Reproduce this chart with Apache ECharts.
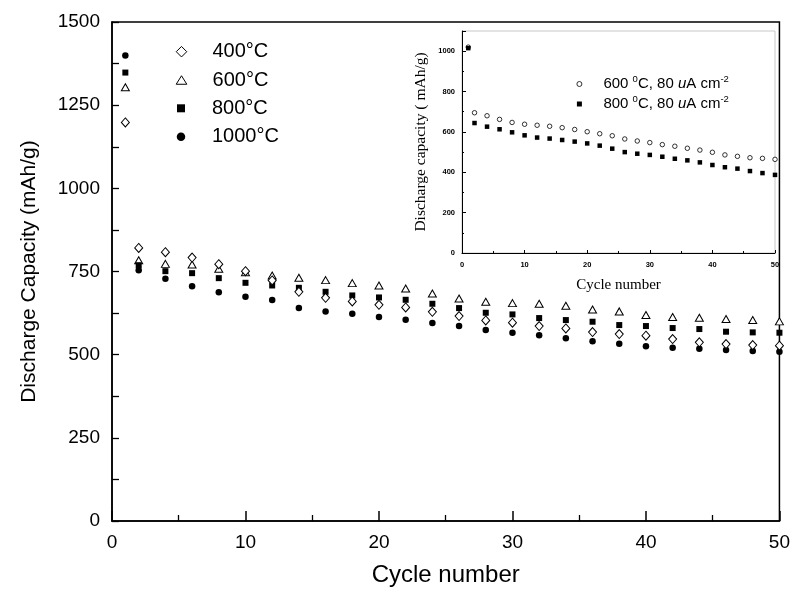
<!DOCTYPE html>
<html><head><meta charset="utf-8">
<script src="https://cdn.jsdelivr.net/npm/echarts@6/dist/echarts.min.js"></script>
<style>html,body{margin:0;padding:0;background:#fff}#c{width:793px;height:592px}</style>
</head><body><div id="c"></div>
<script>
// ---- data ----
const cycles = [1,2,4,6,8,10,12,14,16,18,20,22,24,26,28,30,32,34,36,38,40,42,44,46,48,50];
const cap400 = [1198,821,808,792,772,751,723,689,671,660,650,642,629,616,603,596,586,579,568,562,557,547,537,532,529,527];
const cap600 = [1304,784,773,771,758,748,738,731,724,715,708,699,684,669,659,655,653,647,636,630,619,613,611,607,604,600];
const cap800 = [1348,769,751,745,730,716,708,701,689,678,672,665,653,640,626,621,610,604,599,589,586,580,577,569,567,566];
const cap1000 = [1399,754,728,706,688,674,664,640,630,623,613,605,595,586,574,566,558,549,540,533,525,521,518,514,511,509];
const mainNames = ['400°C','600°C','800°C','1000°C'];

const insetCycles = [1,2,4,6,8,10,12,14,16,18,20,22,24,26,28,30,32,34,36,38,40,42,44,46,48,50];
const inset600 = [1020,695,680,662,647,638,633,628,621,612,601,591,581,565,555,547,537,529,519,510,499,486,479,472,469,464];
const inset800 = [1015,644,626,613,598,583,572,567,560,552,543,532,517,500,492,486,477,467,459,449,436,425,418,406,396,387];
const insetNames = ['600 °C, 80 uA cm-2','800 °C, 80 uA cm-2'];
const insetRich = {
  '600 °C, 80 uA cm-2': '{n|600 }{s|0}{n|C, 80 }{i|u}{n|A cm}{s|-2}',
  '800 °C, 80 uA cm-2': '{n|800 }{s|0}{n|C, 80 }{i|u}{n|A cm}{s|-2}'
};

const mainXTicks = {min:0, max:50, interval:10};
const mainYTicks = {min:0, max:1500, interval:125, labelEvery:250};
const insetXTicks = {min:0, max:50, interval:10};
const insetYTicks = {min:0, max:1100, interval:200, labelMax:1000};

// ---- helpers ----
const pairs = (xs, ys) => xs.map((x, i) => [x, ys[i]]);
const FONT = '"Liberation Sans", Arial, sans-serif';
const SERIF = '"Liberation Serif", "Times New Roman", serif';
const BLACK = '#000';

const icons = {
  diamond: 'path://M5,0L10,5L5,10L0,5Z',
  triangle: 'path://M0,8L5,0L10,8Z',
  square: 'path://M0,0L10,0L10,10L0,10Z',
  circle: 'path://M0,5A5,5 0 1,0 10,5A5,5 0 1,0 0,5Z'
};

const legendCenterX = 181;
const legendRows = [51.7, 80, 108.3, 136.7];
const legendIcon = [icons.diamond, icons.triangle, icons.square, icons.circle];
const legendH = [10.5, 8.5, 8, 8.5];
const legendW = [10.5, 10.6, 8, 8.5];
const mainLegends = mainNames.map((n, i) => ({
  orient: 'horizontal', left: legendCenterX - legendW[i] / 2, top: legendRows[i] - 12, padding: 0,
  itemWidth: 52, itemHeight: legendH[i], selectedMode: false,
  itemStyle: {borderWidth: 1},
  data: [{name: n, icon: legendIcon[i]}],
  textStyle: {color: BLACK, fontSize: 20, fontFamily: FONT, lineHeight: 24}
}));

const insetLegend = {
  orient: 'vertical', left: 579 - 2.5, top: 74, padding: 0, itemGap: 0,
  itemWidth: 38, itemHeight: 5, selectedMode: false,
  itemStyle: {borderWidth: 0.8},
  data: [{name: insetNames[0], icon: icons.circle}, {name: insetNames[1], icon: icons.square}],
  formatter: name => insetRich[name],
  textStyle: {
    color: BLACK, fontFamily: FONT, fontSize: 15, lineHeight: 20,
    rich: {
      n: {fontSize: 15, fontFamily: FONT, color: BLACK},
      i: {fontSize: 15, fontFamily: FONT, fontStyle: 'italic', color: BLACK},
      s: {fontSize: 9.5, fontFamily: FONT, color: BLACK, verticalAlign: 'top', lineHeight: 10}
    }
  }
};

const chart = echarts.init(document.getElementById('c'), null, {renderer: 'canvas'});
chart.setOption({
  animation: false,
  backgroundColor: '#fff',
  grid: [
    {left: 112, right: 11, top: 22, bottom: 69, show: true, borderColor: BLACK, borderWidth: 1.5, backgroundColor: 'transparent'},
    {left: 462, right: 18, top: 31, bottom: 339, show: true, borderColor: '#c8c8c8', borderWidth: 1, backgroundColor: '#fff'}
  ],
  legend: mainLegends.concat([insetLegend]),
  xAxis: [
    {
      gridIndex: 0, type: 'value', min: mainXTicks.min, max: mainXTicks.max, interval: mainXTicks.interval,
      axisLine: {show: true, lineStyle: {color: BLACK, width: 1.5}},
      axisTick: {show: true, inside: true, length: 10, lineStyle: {color: BLACK, width: 1.5}},
      minorTick: {show: true, splitNumber: 2, length: 6, lineStyle: {color: BLACK, width: 1.3}},
      splitLine: {show: false}, minorSplitLine: {show: false},
      axisLabel: {color: BLACK, fontSize: 19, fontFamily: FONT, margin: 12},
      name: 'Cycle number', nameLocation: 'middle', nameGap: 42,
      nameTextStyle: {color: BLACK, fontSize: 24, fontFamily: FONT}
    },
    {
      gridIndex: 1, type: 'value', min: insetXTicks.min, max: insetXTicks.max, interval: insetXTicks.interval,
      axisLine: {show: true, lineStyle: {color: BLACK, width: 1}},
      axisTick: {show: true, inside: true, length: 3, lineStyle: {color: BLACK, width: 1}},
      minorTick: {show: true, splitNumber: 2, length: 2, lineStyle: {color: BLACK, width: 1}},
      splitLine: {show: false}, minorSplitLine: {show: false},
      axisLabel: {color: BLACK, fontSize: 7.5, fontWeight: 'bold', fontFamily: FONT, margin: 8},
      name: 'Cycle number', nameLocation: 'middle', nameGap: 25,
      nameTextStyle: {color: BLACK, fontSize: 15, fontFamily: SERIF}
    }
  ],
  yAxis: [
    {
      gridIndex: 0, type: 'value', min: mainYTicks.min, max: mainYTicks.max, interval: mainYTicks.interval,
      axisLine: {show: true, lineStyle: {color: BLACK, width: 1.5}},
      axisTick: {show: true, inside: true, length: 7, lineStyle: {color: BLACK, width: 1.3}},
      splitLine: {show: false},
      axisLabel: {color: BLACK, fontSize: 19, fontFamily: FONT, margin: 12,
        formatter: v => (v % mainYTicks.labelEvery === 0 ? String(v) : '')},
      name: 'Discharge Capacity (mAh/g)', nameLocation: 'middle', nameGap: 72,
      nameTextStyle: {color: BLACK, fontSize: 21, fontFamily: FONT}
    },
    {
      gridIndex: 1, type: 'value', min: insetYTicks.min, max: insetYTicks.max, interval: insetYTicks.interval,
      axisLine: {show: true, lineStyle: {color: BLACK, width: 1}},
      axisTick: {show: true, inside: true, length: 4, lineStyle: {color: BLACK, width: 1}},
      minorTick: {show: true, splitNumber: 2, length: 2, lineStyle: {color: BLACK, width: 1}},
      splitLine: {show: false}, minorSplitLine: {show: false},
      axisLabel: {color: BLACK, fontSize: 7.5, fontWeight: 'bold', fontFamily: FONT, margin: 7,
        formatter: v => (v <= insetYTicks.labelMax ? String(v) : '')},
      name: 'Discharge capacity ( mAh/g)', nameLocation: 'middle', nameGap: 33,
      nameTextStyle: {color: BLACK, fontSize: 15.5, fontFamily: SERIF}
    }
  ],
  series: [
    {name: mainNames[0], type: 'scatter', xAxisIndex: 0, yAxisIndex: 0, symbol: 'diamond', symbolSize: [8, 9],
     itemStyle: {color: '#fff', borderColor: BLACK, borderWidth: 1, opacity: 1}, data: pairs(cycles, cap400), z: 4},
    {name: mainNames[1], type: 'scatter', xAxisIndex: 0, yAxisIndex: 0, symbol: 'triangle', symbolSize: [8, 7],
     itemStyle: {color: '#fff', borderColor: BLACK, borderWidth: 1, opacity: 1}, data: pairs(cycles, cap600), z: 3},
    {name: mainNames[2], type: 'scatter', xAxisIndex: 0, yAxisIndex: 0, symbol: 'rect', symbolSize: 6,
     itemStyle: {color: BLACK, opacity: 1}, data: pairs(cycles, cap800), z: 3},
    {name: mainNames[3], type: 'scatter', xAxisIndex: 0, yAxisIndex: 0, symbol: 'circle', symbolSize: 6.5,
     itemStyle: {color: BLACK, opacity: 1}, data: pairs(cycles, cap1000), z: 3},
    {name: insetNames[0], type: 'scatter', xAxisIndex: 1, yAxisIndex: 1, symbol: 'circle', symbolSize: 4.5,
     itemStyle: {color: '#fff', borderColor: BLACK, borderWidth: 0.8, opacity: 1}, data: pairs(insetCycles, inset600), z: 5},
    {name: insetNames[1], type: 'scatter', xAxisIndex: 1, yAxisIndex: 1, symbol: 'rect', symbolSize: 4.5,
     itemStyle: {color: BLACK, opacity: 1}, data: pairs(insetCycles, inset800), z: 5}
  ]
});
</script>
</body></html>
